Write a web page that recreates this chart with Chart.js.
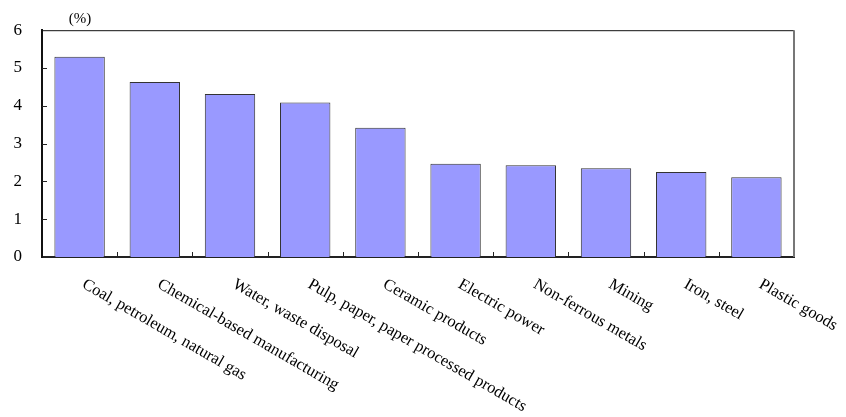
<!DOCTYPE html>
<html lang="en">
<head>
  <meta charset="UTF-8" />
  <title>Industry chart</title>
  <style>
    body { margin: 0; background: #fff; }
    #wrap { width: 846px; height: 417px; position: relative; }
  </style>
</head>
<body>
  <div id="wrap"><canvas id="chart"></canvas></div>

  <script src="https://cdn.jsdelivr.net/npm/chart.js@4.4.1/dist/chart.umd.min.js"></script>
  <script>
    // data
    const categories = [
      "Coal, petroleum, natural gas",
      "Chemical-based manufacturing",
      "Water, waste disposal",
      "Pulp, paper, paper processed products",
      "Ceramic products",
      "Electric power",
      "Non-ferrous metals",
      "Mining",
      "Iron, steel",
      "Plastic goods"
    ];
    const values = [5.30, 4.63, 4.31, 4.09, 3.42, 2.47, 2.43, 2.35, 2.25, 2.11];
    const yTicks = [0, 1, 2, 3, 4, 5, 6];
    const unitLabel = "(%)";

    const fontFamily = "'Liberation Serif', 'Times New Roman', serif";

    // frame, inward tick marks, unit label and slanted category labels
    const decorations = {
      id: "decorations",
      afterDatasetsDraw(chart) {
        const { ctx, chartArea: a, scales } = chart;
        const x = scales.x, y = scales.y;
        ctx.save();

        // top + right frame
        ctx.strokeStyle = "#111";
        ctx.lineWidth = 1;
        ctx.beginPath();
        ctx.moveTo(a.left, a.top + 0.5);
        ctx.lineTo(a.right, a.top + 0.5);
        ctx.stroke();
        ctx.strokeStyle = "#777";
        ctx.lineWidth = 2;
        ctx.beginPath();
        ctx.moveTo(a.right, a.top);
        ctx.lineTo(a.right, a.bottom);
        ctx.stroke();

        // ticks pointing into the plot
        ctx.strokeStyle = "#222";
        ctx.lineWidth = 1;
        ctx.beginPath();
        for (let i = 1; i < categories.length; i++) {
          const px = Math.round((x.getPixelForValue(i - 1) + x.getPixelForValue(i)) / 2) + 0.5;
          ctx.moveTo(px, a.bottom);
          ctx.lineTo(px, a.bottom - 5);
        }
        yTicks.slice(1, -1).forEach(v => {
          const py = Math.round(y.getPixelForValue(v)) + 0.5;
          ctx.moveTo(a.left, py);
          ctx.lineTo(a.left + 5, py);
        });
        ctx.stroke();

        // unit
        ctx.fillStyle = "#000";
        ctx.font = "15px " + fontFamily;
        ctx.textAlign = "center";
        ctx.textBaseline = "middle";
        ctx.fillText(unitLabel, a.left + 38, 19);

        // category labels, slanted down to the right
        ctx.font = "16.5px " + fontFamily;
        ctx.textAlign = "left";
        ctx.textBaseline = "top";
        categories.forEach((c, i) => {
          const px = x.getPixelForValue(i);
          ctx.save();
          ctx.translate(px + 8, a.bottom + 19);
          ctx.rotate(Math.PI / 6);
          ctx.fillText(c, 0, 0);
          ctx.restore();
        });

        ctx.restore();
      }
    };

    new Chart(document.getElementById("chart"), {
      type: "bar",
      data: {
        labels: categories,
        datasets: [{
          data: values,
          backgroundColor: "#9999ff",
          borderColor: "#333",
          borderWidth: 1,
          categoryPercentage: 1,
          barPercentage: 0.67
        }]
      },
      options: {
        responsive: true,
        maintainAspectRatio: false,
        animation: false,
        layout: { padding: { top: 30, right: 52, left: 0, bottom: 0 } },
        plugins: {
          legend: { display: false },
          tooltip: { enabled: false }
        },
        scales: {
          x: {
            offset: true,
            grid: { display: false },
            border: { display: true, color: "#222", width: 2 },
            ticks: { display: false },
            afterFit(scale) { scale.height = 160; }
          },
          y: {
            min: 0,
            max: 6,
            afterBuildTicks(scale) { scale.ticks = yTicks.map(v => ({ value: v })); },
            grid: { display: false, drawTicks: false },
            border: { display: true, color: "#111", width: 2 },
            ticks: {
              padding: 20,
              color: "#000",
              font: { family: fontFamily, size: 17 }
            },
            afterFit(scale) { scale.width = 42; }
          }
        }
      },
      plugins: [decorations]
    });
  </script>
</body>
</html>
